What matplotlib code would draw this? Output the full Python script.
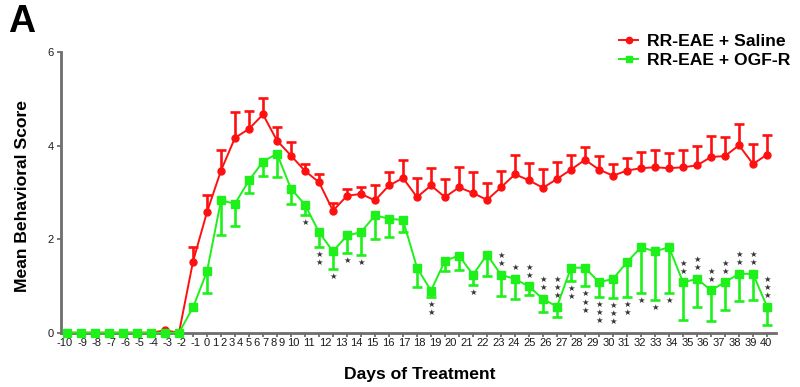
import numpy as np
import matplotlib
matplotlib.use("Agg")
import matplotlib.pyplot as plt
from matplotlib.lines import Line2D

plt.rcParams['font.family'] = ['Liberation Sans', 'DejaVu Sans']
plt.rcParams['axes.unicode_minus'] = False

# ---------------- data ----------------
days = list(range(-10, 41))
tick_labels = [str(d) for d in days]

saline_mean = [0, 0, 0, 0, 0, 0, 0, 0.05, 0,
               1.52, 2.58, 3.47, 4.17, 4.36, 4.67, 4.11, 3.79, 3.46, 3.22,
               2.61, 2.93, 2.97, 2.83, 3.15, 3.31, 2.90, 3.15, 2.90, 3.11,
               2.99, 2.84, 3.11, 3.39, 3.26, 3.10, 3.29, 3.49, 3.70, 3.49,
               3.36, 3.47, 3.52, 3.54, 3.52, 3.54, 3.58, 3.76, 3.78, 4.01,
               3.61, 3.81]
saline_sem = [0, 0, 0, 0, 0, 0, 0, 0, 0,
              0.32, 0.36, 0.43, 0.56, 0.39, 0.36, 0.29, 0.29, 0.14, 0.17,
              0.16, 0.15, 0.14, 0.32, 0.28, 0.39, 0.41, 0.38, 0.38, 0.43,
              0.44, 0.36, 0.34, 0.42, 0.37, 0.41, 0.36, 0.32, 0.27, 0.30,
              0.25, 0.26, 0.34, 0.36, 0.33, 0.38, 0.41, 0.45, 0.41, 0.45,
              0.42, 0.43]

ogf_mean = [0, 0, 0, 0, 0, 0, 0, 0, 0,
            0.54, 1.31, 2.83, 2.76, 3.26, 3.66, 3.83, 3.08, 2.74, 2.15,
            1.74, 2.08, 2.15, 2.51, 2.44, 2.41, 1.39, 0.90, 1.54, 1.65,
            1.24, 1.67, 1.24, 1.15, 0.99, 0.72, 0.56, 1.39, 1.39, 1.08,
            1.15, 1.51, 1.83, 1.74, 1.83, 1.08, 1.15, 0.91, 1.08, 1.26,
            1.26, 0.56]
ogf_sem = [0, 0, 0, 0, 0, 0, 0, 0, 0,
           0, 0.45, 0.75, 0.48, 0.26, 0.31, 0.50, 0.32, 0.23, 0.32,
           0.38, 0.38, 0.49, 0.50, 0.40, 0.26, 0.42, 0.14, 0.23, 0.31,
           0.21, 0.45, 0.45, 0.43, 0.18, 0.28, 0.22, 0.28, 0.40, 0.32,
           0.41, 0.74, 0.97, 1.05, 0.97, 0.81, 0.59, 0.65, 0.59, 0.59,
           0.57, 0.39]

# significance stars: count per day, and whether drawn above the OGF-R point
star_count = [0] * 17 + [1, 2, 1, 1, 1, 0, 0, 0, 0, 2, 0, 0, 1, 0,
                         2, 1, 2, 2, 3, 2, 3, 3, 3, 2, 1, 1, 1,
                         2, 2, 2, 2, 2, 2, 3]
star_above = [False] * 31 + [True, True, True, True, True, False, False, False,
                             False, False, False, False, False,
                             True, True, True, True, True, True, True]

labels = ['RR-EAE + Saline', 'RR-EAE + OGF-R']
RED = '#ff1010'
GREEN = '#1ef01a'

# ---------------- figure ----------------
W, H = 800, 387
fig = plt.figure(figsize=(W / 100, H / 100), dpi=100)
px_day = 14.02
ax = fig.add_axes([61 / W, 1 - 332.7 / H, (776 - 61) / W, (332.7 - 52.3) / H])
ax.set_xlim(-10 - 6 / px_day, 40 + 9 / px_day)
ax.set_ylim(0, 6)

x = np.array(days, dtype=float)
sm = np.array(saline_mean); ss = np.array(saline_sem)
om = np.array(ogf_mean); os_ = np.array(ogf_sem)

# Saline (red): upper error bars
ax.vlines(x[ss > 0], sm[ss > 0], (sm + ss)[ss > 0], color=RED, lw=1.9, zorder=3)
ax.plot(x[ss > 0], (sm + ss)[ss > 0], ls='none', marker='_', ms=6.5, mew=1.9,
        color=RED, zorder=3, clip_on=False)
ax.plot(x, sm, color=RED, lw=1.4, marker='o', ms=5, zorder=4, clip_on=False)

# OGF-R (green): lower error bars
ax.vlines(x[os_ > 0], (om - os_)[os_ > 0], om[os_ > 0], color=GREEN, lw=1.9, zorder=5)
ax.plot(x[os_ > 0], (om - os_)[os_ > 0], ls='none', marker='_', ms=7.5, mew=1.9,
        color=GREEN, zorder=5, clip_on=False)
ax.plot(x, om, color=GREEN, lw=1.4, marker='s', ms=5.8, zorder=6, clip_on=False)

# stars
for xi, m, e, n, up in zip(x, om, os_, star_count, star_above):
    for k in range(n):
        if up:
            y0, off = m, 8.0 + 5.8 * k
        else:
            y0, off = m - e, -(5.4 + 5.8 * k)
        ax.annotate('\u2605', xy=(xi, y0), xytext=(0, off), textcoords='offset points',
                    ha='center', va='center', fontsize=6, color='#333333',
                    family='DejaVu Sans', zorder=7, annotation_clip=False)

# spines / axes styling
for s in ('top', 'right'):
    ax.spines[s].set_visible(False)
for s in ('left', 'bottom'):
    ax.spines[s].set_color('#6e6e6e')
    ax.spines[s].set_linewidth(2.0)

ax.set_yticks([0, 2, 4, 6])
ax.tick_params(axis='y', length=3, width=1.3, color='#6e6e6e', pad=2,
               labelsize=8, labelcolor='#1a1a1a')

# x tick marks at every day, labels placed as flowing text
ax.set_xticks(days, minor=True)
ax.tick_params(axis='x', which='minor', length=3.2, width=1.3, color='#6e6e6e')


def flow_positions(labs, first, last):
    widths = [sum(5.8 if ch == '-' else 7.4 for ch in s) for s in labs]
    gap = 0.8
    c = [0.0]
    for a, b in zip(widths[:-1], widths[1:]):
        c.append(c[-1] + (a + b) / 2 + gap)
    sc = (last - first) / (c[-1] - c[0])
    return [first + v * sc for v in c]


pos = flow_positions(tick_labels, -10 - 2 / px_day, 40 - 1 / px_day)
ax.set_xticks(pos)
ax.set_xticklabels(tick_labels)
ax.tick_params(axis='x', which='major', length=0, pad=4, labelsize=8,
               labelcolor='#1a1a1a')

# labels
fig.text(420 / W, 1 - 374 / H, 'Days of Treatment', ha='center', va='center',
         fontsize=12.6, fontweight='bold')
fig.text(23 / W, 1 - 196.5 / H, 'Mean Behavioral Score', ha='center', va='center',
         rotation=90, fontsize=12.6, fontweight='bold')
fig.text(8 / W, 1 - 22 / H, 'A', ha='left', va='center', fontsize=27,
         fontweight='bold')

# legend
handles = [Line2D([], [], color=RED, lw=1.4, marker='o', ms=4.5),
           Line2D([], [], color=GREEN, lw=1.4, marker='s', ms=4.5)]
leg = fig.legend(handles, labels, loc='upper left',
                 bbox_to_anchor=(619 / W, 1 - 34 / H), frameon=False,
                 prop={'weight': 'bold', 'size': 12.6},
                 handlelength=1.1, handletextpad=0.5, labelspacing=0.22,
                 borderpad=0, borderaxespad=0)

fig.savefig('out.png', dpi=100)
